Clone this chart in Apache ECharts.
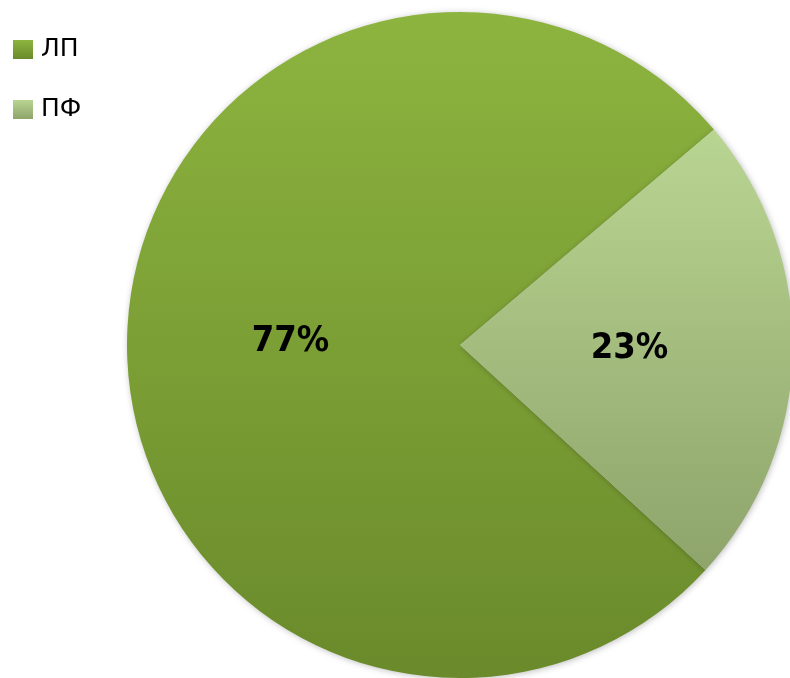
<!DOCTYPE html>
<html>
<head>
<meta charset="utf-8">
<script src="https://cdn.jsdelivr.net/npm/echarts@6/dist/echarts.min.js"></script>
<style>
html,body{margin:0;padding:0;background:#fff;}
#main{width:790px;height:678px;}
</style>
</head>
<body>
<div id="main"></div>
<script>
var categories = ['ЛП', 'ПФ'];
var values = [77, 23];
var topColors = ['#8db43f', '#b9d592'];
var bottomColors = ['#6a8a2b', '#8ea46b'];

var chart = echarts.init(document.getElementById('main'));
var data = categories.map(function (c, i) {
  return {
    name: c,
    value: values[i],
    itemStyle: {
      color: new echarts.graphic.LinearGradient(0, 0, 0, 1, [
        { offset: 0, color: topColors[i] },
        { offset: 1, color: bottomColors[i] }
      ])
    }
  };
});
chart.setOption({
  animation: false,
  legend: {
    orient: 'vertical',
    left: 13,
    top: 37,
    padding: 0,
    itemWidth: 20,
    itemHeight: 19,
    itemGap: 35,
    icon: 'rect',
    textStyle: { fontFamily: "'DejaVu Sans', sans-serif", fontSize: 25, color: '#000', padding: [2, 0, 0, 3] },
    data: categories
  },
  series: [{
    type: 'pie',
    center: [460, 345],
    radius: [0, 333],
    startAngle: -42.5,
    clockwise: true,
    silent: true,
    data: data,
    itemStyle: {
      shadowBlur: 6,
      shadowColor: 'rgba(0,0,0,0.25)',
      shadowOffsetX: 1,
      shadowOffsetY: 1
    },
    label: {
      position: 'inside',
      formatter: '{c}%',
      fontFamily: "'DejaVu Sans Condensed', sans-serif",
      fontWeight: 'bold',
      fontSize: 36,
      color: '#000'
    },
    labelLine: { show: false }
  }]
});
</script>
</body>
</html>
